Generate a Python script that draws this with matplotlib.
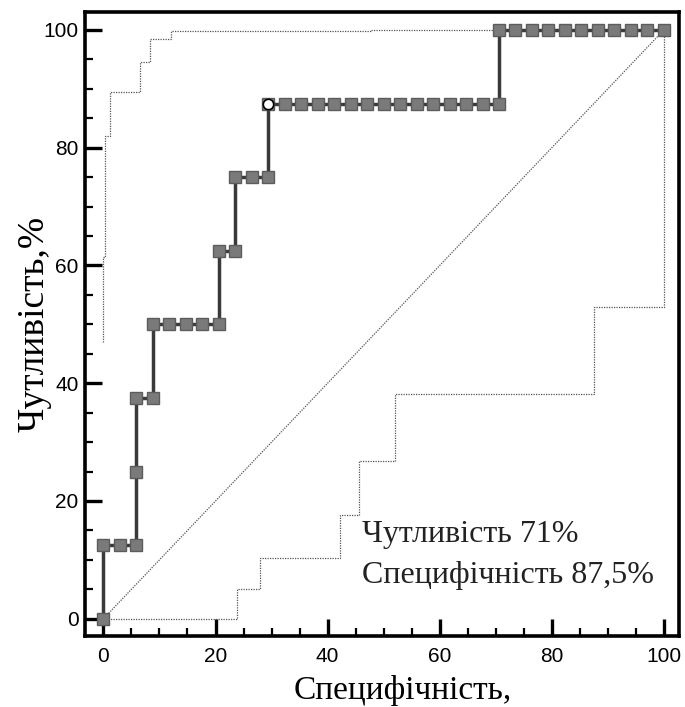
import matplotlib
matplotlib.use("Agg")
import matplotlib.pyplot as plt
from matplotlib.ticker import MultipleLocator

# ROC curve: 34 controls (x step = 100/34), 8 cases (y step = 12.5)
n_ctrl = 34
roc_k = [0, 0, 1, 2, 2, 2, 3, 3, 4, 5, 6, 7, 7, 8, 8, 9, 10, 10,
         11, 12, 13, 14, 15, 16, 17, 18, 19, 20, 21, 22, 23, 24,
         24, 25, 26, 27, 28, 29, 30, 31, 32, 33, 34]
roc_sens = [0, 12.5, 12.5, 12.5, 25, 37.5, 37.5, 50, 50, 50, 50, 50, 62.5, 62.5, 75, 75, 75, 87.5,
            87.5, 87.5, 87.5, 87.5, 87.5, 87.5, 87.5, 87.5, 87.5, 87.5, 87.5, 87.5, 87.5, 87.5,
            100, 100, 100, 100, 100, 100, 100, 100, 100, 100, 100]
roc_x = [k * 100 / n_ctrl for k in roc_k]

# cut-off point
cut_x = 10 * 100 / n_ctrl
cut_y = 87.5

# confidence bands (step lines)
upper_x = [0, 0, 0.35, 0.35, 1.1, 1.1, 6.5, 6.5, 8.4, 8.4, 12.1, 12.1, 47.8, 47.8, 100]
upper_y = [47, 61.4, 61.4, 82, 82, 89.4, 89.4, 94.6, 94.6, 98.5, 98.5, 99.8, 99.8, 100, 100]
lower_x = [0, 23.8, 23.8, 27.9, 27.9, 42.3, 42.3, 45.6, 45.6, 52, 52, 87.6, 87.6, 100, 100]
lower_y = [0, 0, 5.1, 5.1, 10.4, 10.4, 17.7, 17.7, 26.8, 26.8, 38.1, 38.1, 52.9, 52.9, 100]

fig = plt.figure(figsize=(6.85, 7.07), dpi=100)
ax = fig.add_axes([0.1248, 0.1011, 0.8664, 0.8823])

dot = dict(color="#555555", lw=0.9, ls=(0, (1, 1)))
ax.plot([0, 100], [0, 100], **dot)
ax.plot(upper_x, upper_y, **dot)
ax.plot(lower_x, lower_y, **dot)

ax.plot(roc_x, roc_sens, color="#3a3a3a", lw=2.5, marker="s", markersize=8,
        markerfacecolor="#7a7a7a", markeredgecolor="#5c5c5c", markeredgewidth=1, zorder=3)
ax.plot([cut_x], [cut_y], marker="o", markersize=7.5, markerfacecolor="white",
        markeredgecolor="black", markeredgewidth=1.2, zorder=4)

ax.set_xlim(-3.2, 102.7)
ax.set_ylim(-2.85, 103.1)

ax.xaxis.set_major_locator(MultipleLocator(20))
ax.xaxis.set_minor_locator(MultipleLocator(5))
ax.yaxis.set_major_locator(MultipleLocator(20))
ax.yaxis.set_minor_locator(MultipleLocator(5))

for s in ax.spines.values():
    s.set_linewidth(2.6)
ax.tick_params(which="major", direction="in", length=12, width=2.4,
               labelsize=15, top=False, right=False)
ax.tick_params(which="minor", direction="in", length=6, width=1.6, top=False, right=False)
ax.tick_params(axis="x", which="major", pad=8)
ax.tick_params(axis="y", which="major", pad=5)
for lab in ax.get_xticklabels() + ax.get_yticklabels():
    lab.set_fontfamily("Liberation Sans")

serif = "Liberation Serif"
ax.set_xlabel("Специфічність,", fontsize=24, family=serif, labelpad=0)
ax.xaxis.set_label_coords(0.535, -0.063, transform=ax.transAxes)
ax.xaxis.label.set_verticalalignment("top")
ax.set_ylabel("Чутливість,%", fontsize=27, family=serif, labelpad=-6)

ax.text(46.1, 13.0, "Чутливість 71%", fontsize=23, family=serif, color="#222222")
ax.text(46.1, 6.1, "Специфічність 87,5%", fontsize=23, family=serif, color="#222222")

fig.savefig("out.png", dpi=100)
